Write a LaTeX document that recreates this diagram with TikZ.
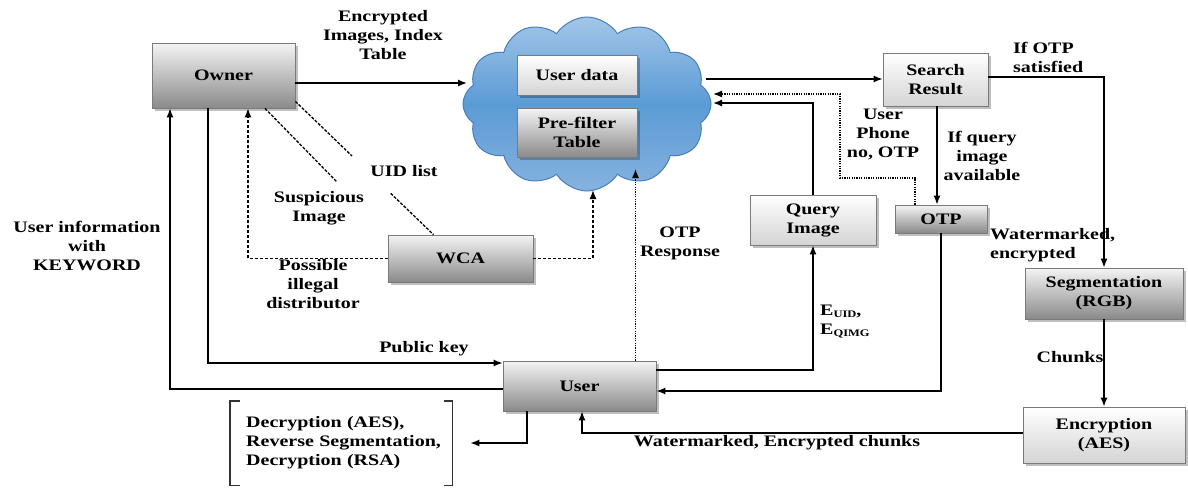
\documentclass[tikz,border=0pt]{standalone}
\usepackage{fontspec}
\setmainfont{Liberation Serif}[FakeStretch=1.25]
\usetikzlibrary{shapes.symbols,shadows,arrows.meta,calc}
\definecolor{dtop}{HTML}{F4F4F4}
\definecolor{dbot}{HTML}{8A8A8A}
\definecolor{ltop}{HTML}{FFFFFF}
\definecolor{lbot}{HTML}{D4D4D4}
\definecolor{boxedge}{HTML}{7A7A7A}
\definecolor{cloudtop}{HTML}{A3C6E9}
\definecolor{cloudmid}{HTML}{5B9BD5}
\definecolor{cloudbot}{HTML}{86B2DF}
\definecolor{cloudedge}{HTML}{4A7EBB}
\newcommand\lblfont{\fontsize{16}{19}\selectfont\bfseries}
\newcommand\subtxt[1]{\raisebox{-2pt}{\fontsize{10}{10}\selectfont #1}}

\begin{document}
\begin{tikzpicture}[x=1pt,y=-1pt,
  box/.style={draw=boxedge, line width=0.8pt, inner sep=2pt, align=center, font=\lblfont,
    drop shadow={shadow xshift=2.5pt, shadow yshift=-2.5pt, fill=black, opacity=0.25}},
  darkbox/.style={box, top color=dtop, bottom color=dbot},
  lightbox/.style={box, top color=ltop, bottom color=lbot},
  lbl/.style={font=\lblfont, align=center, inner sep=1pt},
  flow/.style={line width=1.35pt, -{Latex[length=9pt,width=7pt]}},
  dashflow/.style={flow, dash pattern=on 3pt off 2pt},
  dotflow/.style={flow, dash pattern=on 1.3pt off 1.1pt},
  diag/.style={line width=1.3pt, dash pattern=on 3pt off 1.5pt},
  bk/.style={line width=1.4pt, draw=black!80},
]
\useasboundingbox (0,0) rectangle (1188,488);

% cloud storage with its two tables
\node[cloud, cloud puffs=12, cloud puff arc=115, aspect=1.5, minimum width=248pt, minimum height=174pt,
      inner sep=0, draw=cloudedge, line width=1pt,
      top color=cloudtop, bottom color=cloudbot, middle color=cloudmid] (cloud) at (587,104) {};
\node[lightbox, minimum width=120pt, minimum height=40pt] (userdata) at (577,75) {User data};
\node[darkbox, minimum width=120pt, minimum height=49pt] (prefilter) at (577,132.5) {Pre-filter\\Table};

% entities
\node[darkbox, minimum width=143pt, minimum height=65pt] (owner) at (223.5,75.5) {Owner};
\node[lightbox, minimum width=105pt, minimum height=53pt] (search) at (935.5,79.5) {Search\\Result};
\node[darkbox, minimum width=92pt, minimum height=28pt] (otp) at (941,219) {OTP};
\node[lightbox, minimum width=126pt, minimum height=50pt] (query) at (813,220) {Query\\Image};
\node[darkbox, minimum width=145pt, minimum height=47pt] (wca) at (460.5,258.5) {WCA};
\node[darkbox, minimum width=153pt, minimum height=50pt] (user) at (579.5,386) {User};
\node[darkbox, minimum width=158pt, minimum height=51pt] (seg) at (1104,293.5) {Segmentation\\(RGB)};
\node[lightbox, minimum width=162pt, minimum height=56pt] (enc) at (1104,435) {Encryption\\(AES)};

% user-side decryption steps in brackets
\node[lbl, anchor=west, align=left, text width=206pt, inner sep=0, minimum height=84pt] (dec) at (246,443)
  {Decryption (AES),\\Reverse Segmentation,\\Decryption (RSA)};
\draw[bk] ([xshift=-6pt]dec.north west) -- ([xshift=-16pt]dec.north west)
          -- ([xshift=-16pt]dec.south west) -- ([xshift=-6pt]dec.south west);
\draw[bk] ([xshift=-8pt]dec.north east) -- (dec.north east) -- (dec.south east) -- ([xshift=-8pt]dec.south east);

% points where connectors meet the cloud outline
\coordinate (cin) at (467,83);
\coordinate (cout) at (706,79);
\coordinate (cdot) at (713,94);
\coordinate (cquery) at (713,103);
\coordinate (cwca) at (593,190);
\coordinate (cresp) at (636,169);
\coordinate (otpbend) at (840,178);

% labels
\node[lbl] (lenc) at (383,35) {Encrypted\\Images, Index\\Table};
\node[lbl] (luid) at (404,171) {UID list};
\node[lbl] (lsusp) at (319,208) {Suspicious\\Image};
\node[lbl] (lposs) at (313,284) {Possible\\illegal\\distributor};
\node[lbl] (linfo) at (87,246) {User information\\with\\KEYWORD};
\node[lbl] (lpub) at (424,349) {Public key};
\node[lbl] (lresp) at (680,243) {OTP\\Response};
\node[lbl] (lphone) at (883,134) {User\\Phone\\no, OTP};
\node[lbl] (lavail) at (982,156) {If query\\image\\available};
\node[lbl, anchor=west, align=left] (lsat) at (1012,57) {If OTP\\satisfied};
\node[lbl, anchor=west, align=left] (lwm) at (989,245) {Watermarked,\\encrypted};
\node[lbl] (lchunks) at (1070,357) {Chunks};
\node[lbl, anchor=west, align=left] (leuid) at (819,322) {E\subtxt{UID},\\E\subtxt{QIMG}};
\node[lbl] (lwmc) at (777,443) {Watermarked, Encrypted chunks};

% solid flows
\draw[flow] (owner.east |- cin) -- (cin);
\draw[flow] (cout) -- (cout -| search.west);
\draw[flow] ([xshift=1.5pt]search.south) -- ([xshift=1.5pt]search.south |- otp.north);
\draw[flow] ([yshift=2.5pt]search.east) -| (seg.north);
\draw[flow] (seg.south) -- (seg.south |- enc.north);
\draw[flow] ([yshift=2pt]enc.west) -| ([xshift=2.5pt]user.south);
\draw[flow] (otp.south) |- ([yshift=-5pt]user.east);
\draw[flow] ([yshift=16pt]user.east) -| (query.south);
\draw[flow] (query.north) |- (cquery);
\draw[flow] ([xshift=-15.5pt]owner.south) |- ([yshift=23pt]user.west);
\draw[flow] ([yshift=-3pt]user.west) -| ([xshift=-53.5pt]owner.south);
\draw[flow] ([xshift=-52.5pt]user.south) |- ([xshift=18pt]dec.east);

% dotted and dashed flows
\draw[dotflow] ([xshift=-26pt]otp.north) |- (otpbend) |- (cdot);
\draw[dotflow] ([xshift=56pt]user.north) -- ([xshift=56pt]user.north |- cresp);
\draw[dashflow] (wca.east) -| (cwca);
\draw[dashflow] (wca.west) -| ([xshift=24.5pt]owner.south);

% diagonal links from the owner
\coordinate (ua) at ([yshift=7pt]owner.south east);
\coordinate (ub) at ([xshift=-27pt]wca.north);
\draw[diag] (ua) -- ($(ua)!0.41!(ub)$);
\draw[diag] ($(ua)!0.69!(ub)$) -- (ub);
\draw[diag] ([xshift=41.5pt]owner.south) -- ($(lsusp.north)+(18,-8)$);
\end{tikzpicture}
\end{document}
